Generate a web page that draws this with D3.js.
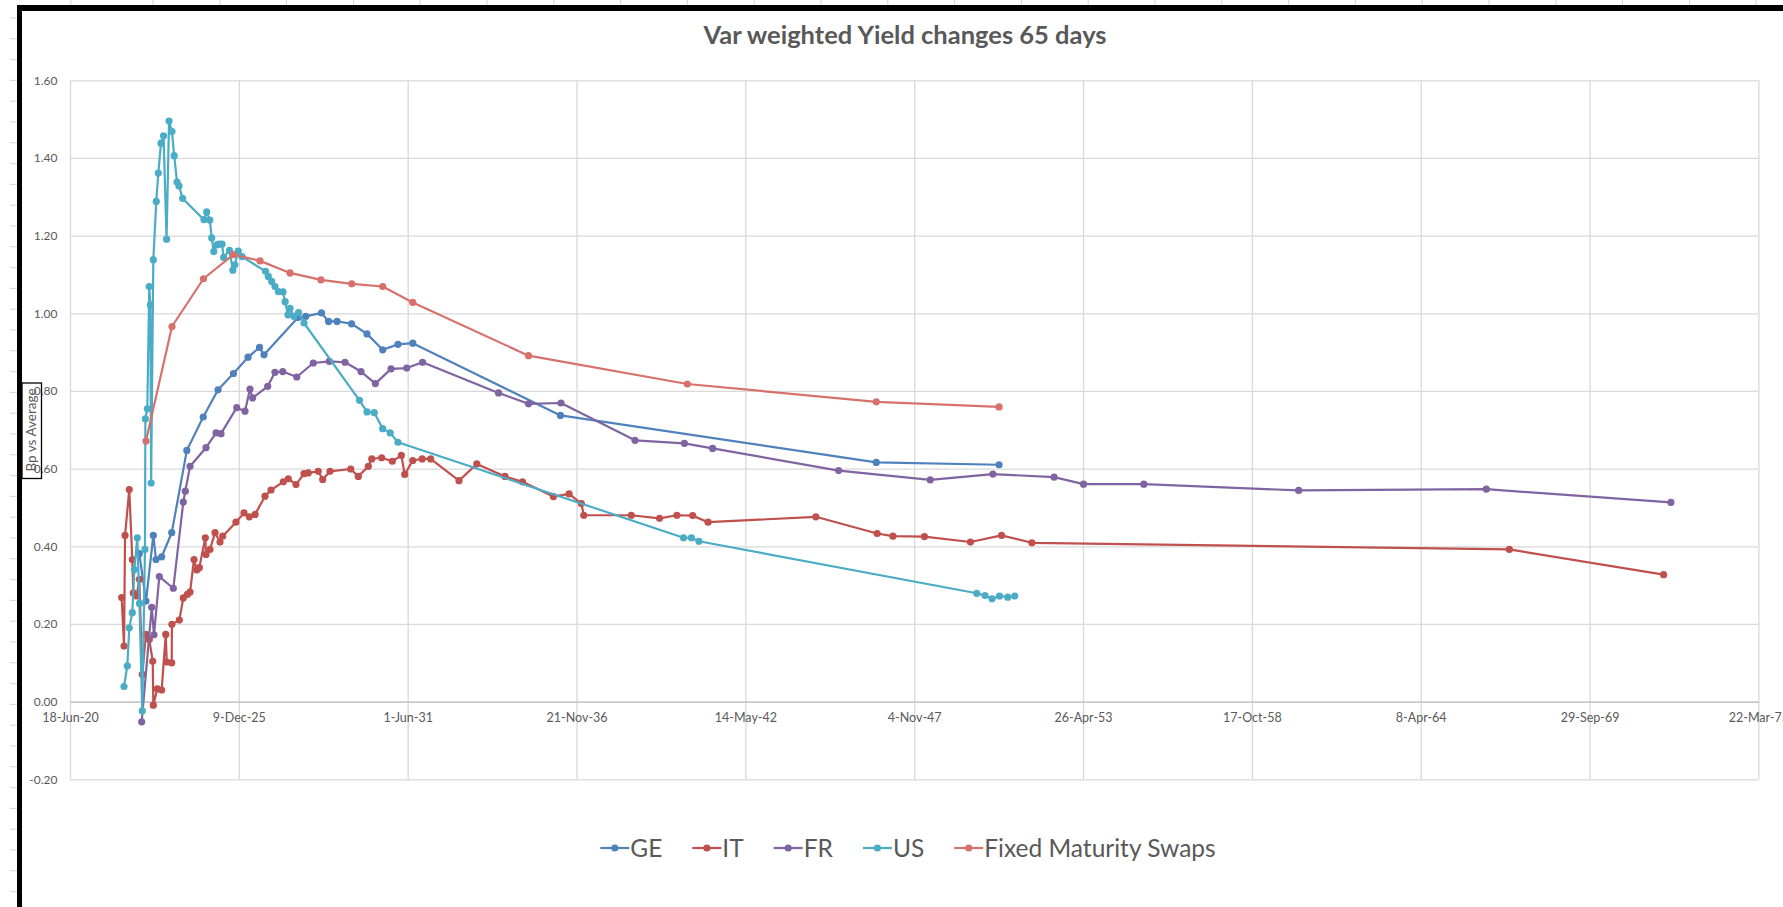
<!DOCTYPE html>
<html>
<head>
    <title>Var weighted Yield changes 65 days</title>
    <script src="https://d3js.org/d3.v7.min.js"></script>
    <style>
        body { margin: 0; background: #fff; }
        text { font-family: Lato, "Liberation Sans", sans-serif; fill: #595959; }
    </style>
</head>
<body>
    <div id="chart"></div>
    <script>
// x values are Excel date serials (44000 = 18-Jun-20), y values are bp vs average
const seriesNames = ['GE', 'IT', 'FR', 'US', 'Fixed Maturity Swaps'];
const seriesColors = ['#4f81bd', '#c0504d', '#8064a2', '#4bacc6', '#d6716c'];

const GE = [
    [44821, 0.381], [44900, 0.259], [44987, 0.428], [45019, 0.366], [45086, 0.373],
    [45205, 0.435], [45384, 0.647], [45578, 0.733], [45754, 0.803], [45936, 0.845],
    [46109, 0.887], [46245, 0.912], [46298, 0.893], [46701, 0.989], [46792, 0.992],
    [46979, 1.001], [47063, 0.979], [47163, 0.979], [47335, 0.973], [47518, 0.947],
    [47704, 0.906], [47885, 0.920], [48060, 0.923], [49810, 0.737], [53551, 0.616],
    [55005, 0.610]
];

const IT = [
    [44612, 0.268], [44640, 0.143], [44652, 0.428], [44702, 0.546], [44738, 0.366],
    [44750, 0.280], [44790, 0.272], [44821, 0.315], [44856, 0.070], [44900, 0.173],
    [44939, 0.160], [44980, 0.104], [44987, -0.009], [45034, 0.033], [45086, 0.030],
    [45134, 0.173], [45146, 0.102], [45205, 0.100], [45207, 0.199], [45295, 0.210],
    [45342, 0.267], [45390, 0.276], [45422, 0.282], [45469, 0.366], [45501, 0.339],
    [45532, 0.345], [45603, 0.422], [45611, 0.379], [45658, 0.392], [45718, 0.435],
    [45777, 0.411], [45809, 0.426], [45966, 0.462], [46061, 0.486], [46124, 0.476],
    [46192, 0.482], [46310, 0.529], [46381, 0.545], [46527, 0.566], [46586, 0.574],
    [46677, 0.559], [46772, 0.587], [46823, 0.589], [46941, 0.593], [46993, 0.572],
    [47080, 0.593], [47325, 0.599], [47415, 0.580], [47534, 0.606], [47574, 0.625],
    [47692, 0.628], [47818, 0.619], [47925, 0.634], [47965, 0.585], [48060, 0.621],
    [48172, 0.625], [48272, 0.625], [48608, 0.569], [48819, 0.612], [49153, 0.580],
    [49360, 0.566], [49726, 0.528], [49912, 0.535], [50057, 0.510], [50086, 0.480],
    [50649, 0.480], [50983, 0.472], [51189, 0.480], [51376, 0.479], [51558, 0.462],
    [52835, 0.476], [53561, 0.433], [53748, 0.426], [54121, 0.425], [54666, 0.411],
    [55035, 0.428], [55394, 0.409], [61050, 0.392], [62877, 0.327]
];

const FR = [
    [44849, -0.052], [44968, 0.243], [44995, 0.172], [45058, 0.322], [45224, 0.292],
    [45342, 0.514], [45366, 0.542], [45422, 0.606], [45611, 0.654], [45730, 0.692],
    [45789, 0.690], [45975, 0.757], [46073, 0.748], [46132, 0.805], [46164, 0.782],
    [46342, 0.812], [46428, 0.848], [46520, 0.850], [46686, 0.836], [46882, 0.872],
    [47072, 0.876], [47258, 0.874], [47447, 0.850], [47617, 0.819], [47803, 0.857],
    [47989, 0.859], [48176, 0.874], [49076, 0.795], [49431, 0.767], [49816, 0.769],
    [50693, 0.673], [51278, 0.665], [51612, 0.652], [53105, 0.595], [54190, 0.571],
    [54932, 0.586], [55657, 0.578], [56006, 0.560], [56720, 0.560], [58554, 0.544],
    [60777, 0.547], [62963, 0.513]
];

const US = [
    [44640, 0.039], [44679, 0.092], [44702, 0.190], [44738, 0.229], [44762, 0.340],
    [44797, 0.422], [44823, 0.253], [44856, -0.024], [44888, 0.392], [44893, 0.728],
    [44916, 0.754], [44939, 1.069], [44952, 1.022], [44961, 0.563], [44987, 1.138],
    [45022, 1.288], [45046, 1.361], [45078, 1.438], [45108, 1.457], [45144, 1.191],
    [45173, 1.495], [45208, 1.468], [45234, 1.406], [45268, 1.338], [45291, 1.328],
    [45334, 1.296], [45587, 1.241], [45619, 1.261], [45656, 1.240], [45679, 1.194],
    [45703, 1.159], [45738, 1.176], [45765, 1.178], [45801, 1.178], [45820, 1.144],
    [45889, 1.162], [45929, 1.111], [45952, 1.125], [45993, 1.160], [46038, 1.146],
    [46316, 1.108], [46349, 1.095], [46389, 1.082], [46428, 1.069], [46468, 1.056],
    [46523, 1.055], [46548, 1.030], [46582, 0.996], [46607, 1.013], [46652, 0.992],
    [46707, 1.002], [46772, 0.975], [47429, 0.776], [47518, 0.746], [47605, 0.744],
    [47704, 0.703], [47793, 0.692], [47885, 0.668], [51267, 0.422], [51361, 0.422],
    [51450, 0.413], [54741, 0.279], [54839, 0.273], [54922, 0.265], [55010, 0.272],
    [55108, 0.269], [55192, 0.272]
];

const FMS = [
    [44900, 0.671], [45208, 0.966], [45581, 1.089], [45934, 1.151], [46251, 1.135],
    [46606, 1.104], [46973, 1.086], [47337, 1.076], [47704, 1.069], [48060, 1.028],
    [49431, 0.891], [51312, 0.818], [53551, 0.772], [55005, 0.759]
];

const xTickSerials = [44000, 46000, 48000, 50000, 52000, 54000, 56000, 58000, 60000, 62000, 64000];
const yTickValues = [-0.2, 0, 0.2, 0.4, 0.6, 0.8, 1.0, 1.2, 1.4, 1.6];

const allSeries = [GE, IT, FR, US, FMS];

const width = 1783;
const height = 907;
const plotLeft = 70, plotRight = 1758.4, plotTop = 80.3, plotBottom = 779.3;

const excelEpoch = Date.UTC(1899, 11, 30);
const toDate = s => new Date(excelEpoch + s * 864e5);

const svg = d3.select('#chart')
    .append('svg')
    .attr('width', width)
    .attr('height', height);

svg.append('rect').attr('width', width).attr('height', height).attr('fill', '#fff');

// spreadsheet cell borders peeking out round the chart object
const ruler = svg.append('g').attr('stroke', '#d4d4d4').attr('stroke-width', 1);
ruler.append('line').attr('x1', 70.8).attr('x2', 70.8).attr('y1', 0).attr('y2', 5);
for (let cx = 153; cx < width; cx += 66.8) {
    ruler.append('line').attr('x1', cx).attr('x2', cx).attr('y1', 0).attr('y2', 5);
}
for (let cy = 18; cy < height; cy += 20.8) {
    ruler.append('line').attr('x1', 10).attr('x2', 17).attr('y1', cy).attr('y2', cy);
}

// black chart frame
svg.append('rect').attr('x', 17).attr('y', 5).attr('width', width - 17).attr('height', 6).attr('fill', '#000');
svg.append('rect').attr('x', 17).attr('y', 5).attr('width', 5).attr('height', height - 5).attr('fill', '#000');

const x = d3.scaleUtc()
    .domain([toDate(xTickSerials[0]), toDate(xTickSerials[xTickSerials.length - 1])])
    .range([plotLeft, plotRight]);

const y = d3.scaleLinear()
    .domain([-0.2, 1.6])
    .range([plotBottom, plotTop]);

// vertical gridlines
svg.append('g')
    .attr('transform', `translate(0,${plotBottom})`)
    .call(d3.axisBottom(x)
        .tickValues(xTickSerials.map(toDate))
        .tickSize(-(plotBottom - plotTop))
        .tickFormat(''))
    .call(g => g.select('.domain').remove())
    .call(g => g.selectAll('line').attr('stroke', '#d9d9d9').attr('stroke-width', 1.3));

// horizontal gridlines + value labels
svg.append('g')
    .attr('transform', `translate(${plotLeft},0)`)
    .call(d3.axisLeft(y)
        .tickValues(yTickValues)
        .tickSize(-(plotRight - plotLeft))
        .tickPadding(12.5)
        .tickFormat(d => d.toFixed(2)))
    .call(g => g.select('.domain').remove())
    .call(g => g.selectAll('line').attr('stroke', '#d9d9d9').attr('stroke-width', 1.3))
    .call(g => g.selectAll('text').attr('font-size', 12).attr('fill', '#595959'));

// date axis sits on the zero line
svg.append('g')
    .attr('transform', `translate(0,${y(0)})`)
    .call(d3.axisBottom(x)
        .tickValues(xTickSerials.map(toDate))
        .tickSize(0)
        .tickPadding(11.5)
        .tickFormat(d3.utcFormat('%-d-%b-%y')))
    .call(g => g.select('.domain').attr('stroke', '#bfbfbf').attr('stroke-width', 1.3))
    .call(g => g.selectAll('text').attr('font-size', 12.5).attr('fill', '#595959'));

const line = d3.line()
    .x(d => x(toDate(d[0])))
    .y(d => y(d[1]));

allSeries.forEach((data, i) => {
    const g = svg.append('g');
    g.append('path')
        .datum(data)
        .attr('fill', 'none')
        .attr('stroke', seriesColors[i])
        .attr('stroke-width', 2.2)
        .attr('stroke-linejoin', 'round')
        .attr('d', line);
    g.selectAll('circle')
        .data(data)
        .enter()
        .append('circle')
        .attr('cx', d => x(toDate(d[0])))
        .attr('cy', d => y(d[1]))
        .attr('r', 3.6)
        .attr('fill', seriesColors[i]);
});

// title
svg.append('text')
    .attr('x', 905)
    .attr('y', 44)
    .attr('text-anchor', 'middle')
    .attr('font-size', 25.5)
    .attr('font-weight', 'bold')
    .text('Var weighted Yield changes 65 days');

// axis title with its box
svg.append('rect')
    .attr('x', 22).attr('y', 383)
    .attr('width', 19.5).attr('height', 95.5)
    .attr('fill', 'none')
    .attr('stroke', '#000')
    .attr('stroke-width', 1.3);
svg.append('text')
    .attr('transform', 'translate(36,430) rotate(-90)')
    .attr('text-anchor', 'middle')
    .attr('font-size', 13.5)
    .text('Bp vs Average');

// legend
const legend = svg.append('g');
const items = seriesNames.map((name, i) => {
    const item = legend.append('g');
    item.append('line')
        .attr('x1', 0).attr('x2', 29)
        .attr('stroke', seriesColors[i]).attr('stroke-width', 2.2);
    item.append('circle')
        .attr('cx', 14.5).attr('r', 3.6)
        .attr('fill', seriesColors[i]);
    const t = item.append('text')
        .attr('x', 30)
        .attr('dy', '0.35em')
        .attr('font-size', 24.5)
        .text(name);
    return { item, w: 30 + t.node().getComputedTextLength() };
});
const gap = 30;
const total = d3.sum(items, d => d.w) + gap * (items.length - 1);
let lx = 908 - total / 2;
items.forEach(d => {
    d.item.attr('transform', `translate(${lx},848)`);
    lx += d.w + gap;
});
    </script>
</body>
</html>
